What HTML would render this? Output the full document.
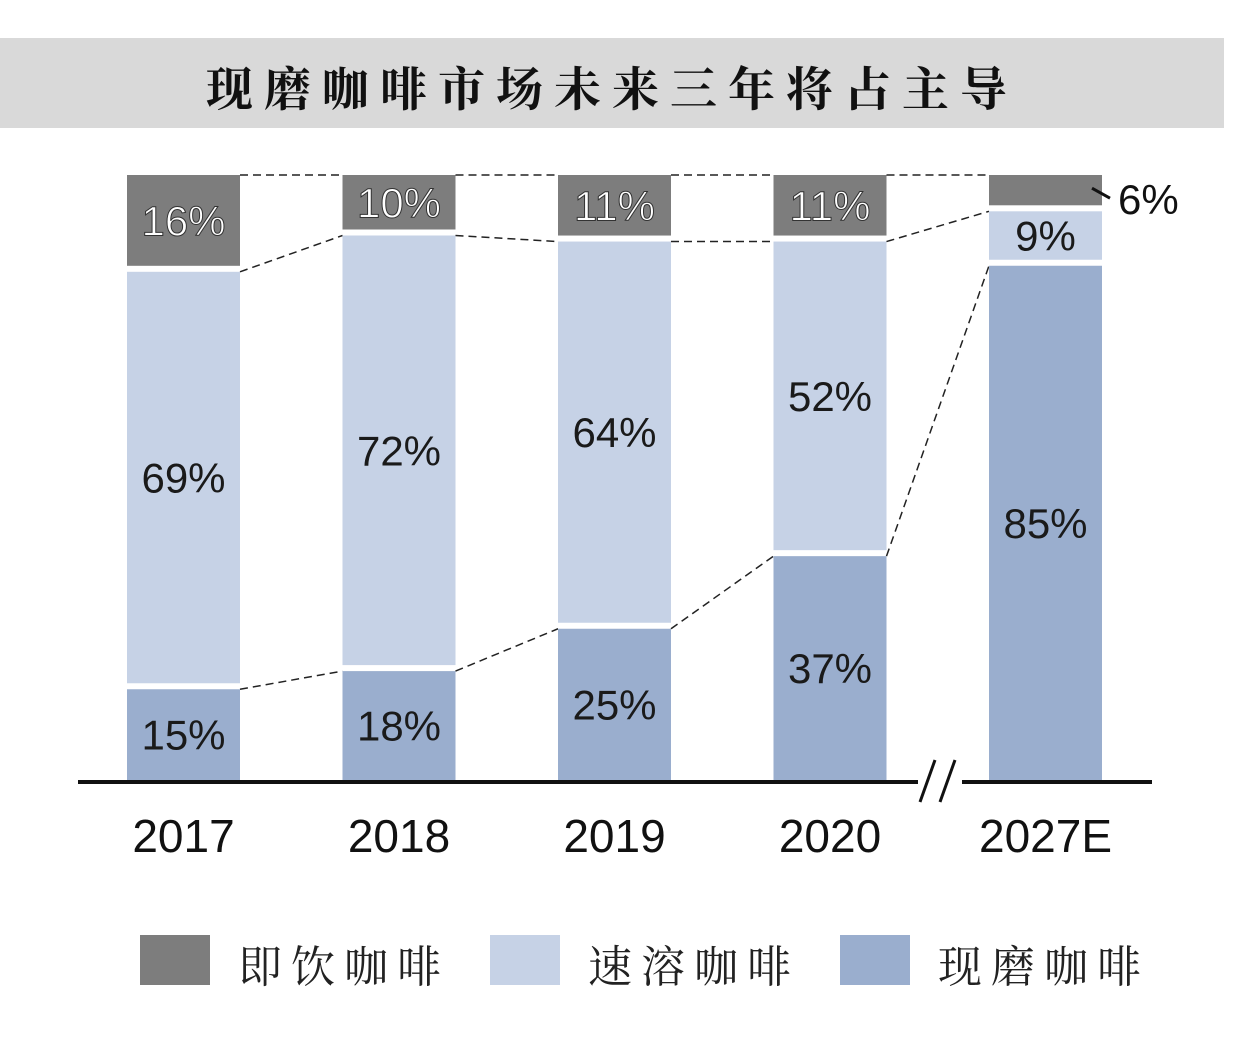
<!DOCTYPE html>
<html><head><meta charset="utf-8"><style>
html,body{margin:0;padding:0;background:#fff;width:1236px;height:1044px;overflow:hidden}
svg{display:block}
</style></head><body>
<svg id="chart" width="1236" height="1044" xmlns="http://www.w3.org/2000/svg">
<rect x="0" y="38" width="1224" height="90" fill="#d9d9d9"/>
<text x="612" y="106" text-anchor="middle" font-family="'Liberation Serif','Noto Serif CJK SC',serif" font-weight="bold" font-size="47" letter-spacing="11" fill="#111">现磨咖啡市场未来三年将占主导</text>
<g id="links"></g>
<g id="bars"></g>
<line x1="78" y1="782" x2="1152" y2="782" stroke="#111" stroke-width="4"/>
<rect x="918" y="770" width="44" height="24" fill="#fff"/>
<line x1="920" y1="802" x2="935" y2="760" stroke="#111" stroke-width="3"/>
<line x1="940" y1="802" x2="955" y2="760" stroke="#111" stroke-width="3"/>
<g id="xlabels"></g>
<g font-family="'Liberation Serif','Noto Serif CJK SC',serif" font-size="44" fill="#222">
<rect x="140" y="935" width="70" height="50" fill="#7d7d7d"/>
<text x="238" y="982" letter-spacing="9">即饮咖啡</text>
<rect x="490" y="935" width="70" height="50" fill="#c6d2e6"/>
<text x="588" y="982" letter-spacing="9">速溶咖啡</text>
<rect x="840" y="935" width="70" height="50" fill="#9aaece"/>
<text x="938" y="982" letter-spacing="9">现磨咖啡</text>
</g>
</svg>
<script>
const categories=["2017","2018","2019","2020","2027E"];
const freshVals=[15,18,25,37,85];
const instantVals=[69,72,64,52,9];
const rtdVals=[16,10,11,11,6];
const NS="http://www.w3.org/2000/svg";
const base=780, H=605, gap=6, barW=113;
function xScale(i){return 127+i*215.5;}
function yScale(p){return base-p/100*H;}
const colors=["#9aaece","#c6d2e6","#7d7d7d"];
const names=["fresh","instant","rtd"];
const bars=document.getElementById('bars'), links=document.getElementById('links'), xl=document.getElementById('xlabels');
const series=[freshVals,instantVals,rtdVals];
const bounds=[];
function mk(tag,attrs,parent){const e=document.createElementNS(NS,tag);for(const k in attrs)e.setAttribute(k,attrs[k]);parent.appendChild(e);return e;}
categories.forEach((c,i)=>{
  const x=xScale(i);let cum=0;const b=[];
  series.forEach((s,k)=>{
    const y0=yScale(cum), y1=yScale(cum+s[i]);
    const bot=k===0?y0:y0-gap;
    const r=mk('rect',{x:x,y:y1,width:barW,height:Math.max(0,bot-y1),fill:colors[k]},bars);
    
    
    b.push(y1);
    const h=bot-y1;
    const label=s[i]+'%';
    if(h>40){
      const t=mk('text',{x:x+barW/2,y:(y1+bot)/2+15,'text-anchor':'middle','font-family':"'Liberation Sans',sans-serif",'font-size':42,fill:k===2?'#fff':'#1a1a1a'},bars);
      if(k===2){t.setAttribute('stroke','#333');t.setAttribute('stroke-width','1');}
      t.textContent=label;
      
      
    } else {
      mk('line',{x1:x+barW-10,y1:(y1+bot)/2-2,x2:x+barW+8,y2:(y1+bot)/2+8,stroke:'#111','stroke-width':3},bars);
      const t=mk('text',{x:x+barW+16,y:(y1+bot)/2+24,'font-family':"'Liberation Sans',sans-serif",'font-size':42,fill:'#111'},bars);
      t.textContent=label;
      
      
    }
    cum+=s[i];
  });
  bounds.push(b);
  const t=mk('text',{x:x+barW/2,y:852,'text-anchor':'middle','font-family':"'Liberation Sans',sans-serif",'font-size':46,fill:'#111'},xl);
  t.textContent=c;
  
  
});
for(let i=0;i<categories.length-1;i++){
  const xa=xScale(i)+barW, xb=xScale(i+1);
  bounds[i].forEach((ya,k)=>{
    const yb=bounds[i+1][k];
    const l=mk('line',{x1:xa,y1:ya,x2:xb,y2:yb,stroke:'#222','stroke-width':1.5,'stroke-dasharray':'8 5'},links);
    
    
  });
}
</script>
</body></html>
